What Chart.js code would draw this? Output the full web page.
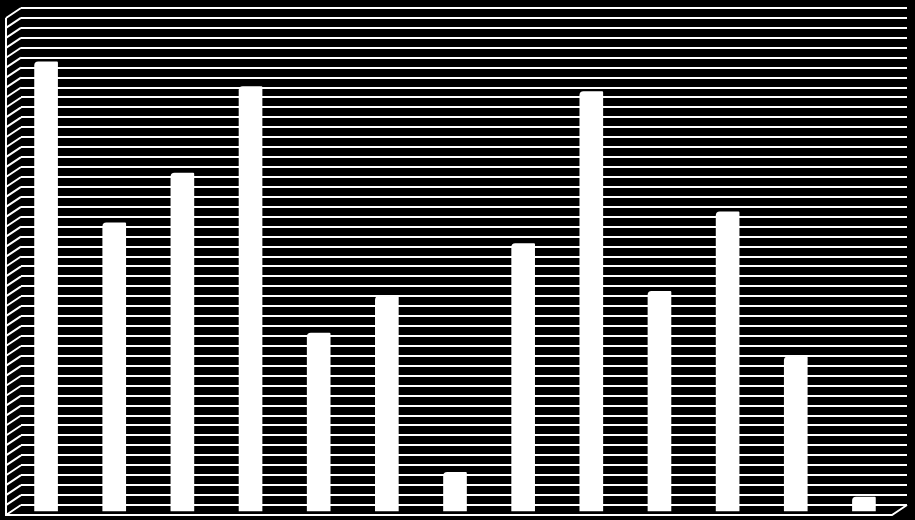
<!DOCTYPE html>
<html>
<head>
<meta charset="utf-8">
<script src="https://cdn.jsdelivr.net/npm/chart.js@4"></script>
<style>
  html, body { margin: 0; padding: 0; background: #000; }
  #wrap { width: 915px; height: 520px; }
</style>
</head>
<body>
<div id="wrap"><canvas id="myChart" width="915" height="520"></canvas></div>
<script>
"use strict";

const categories = ["1", "2", "3", "4", "5", "6", "7", "8", "9", "10", "11", "12", "13"];
const values = [45.3, 29.1, 34.1, 42.8, 18.0, 21.7, 4.0, 27.0, 42.3, 22.2, 30.2, 15.6, 1.5];
const yMin = 0;
const yMax = 50;
const yStep = 1;

// 3D look: side wall / floor depth, bars pushed forward
const DEPTH_X = 15;
const DEPTH_Y = 10;
const BAR_SHIFT_X = -9;
const BAR_SHIFT_Y = 7;

const wallPlugin = {
  id: "wall",
  beforeDraw(chart) {
    const c = chart.ctx;
    c.save();
    c.fillStyle = "#000";
    c.fillRect(0, 0, chart.width, chart.height);
    c.restore();
  },
  beforeDatasetsDraw(chart) {
    const c = chart.ctx;
    const area = chart.chartArea;
    const y = chart.scales.y;
    c.save();
    c.strokeStyle = "#fff";
    c.lineWidth = 2;
    c.beginPath();
    y.ticks.forEach((t) => {
      const py = y.getPixelForValue(t.value);
      c.moveTo(area.left, py);
      c.lineTo(area.left - DEPTH_X, py + DEPTH_Y);
    });
    // side wall front edge
    c.moveTo(area.left - DEPTH_X, area.top + DEPTH_Y);
    c.lineTo(area.left - DEPTH_X, area.bottom + DEPTH_Y);
    // floor front edge
    c.lineTo(area.right - DEPTH_X, area.bottom + DEPTH_Y);
    c.lineTo(area.right, area.bottom);
    c.stroke();
    c.restore();

    c.save();
    c.translate(BAR_SHIFT_X, BAR_SHIFT_Y);
  },
  afterDatasetsDraw(chart) {
    chart.ctx.restore();
  },
};

const ctx = document.getElementById("myChart").getContext("2d");
const myChart = new Chart(ctx, {
  type: "bar",
  data: {
    labels: categories,
    datasets: [
      {
        data: values,
        backgroundColor: "#fff",
        borderWidth: 0,
        borderRadius: { topLeft: 4, topRight: 1 },
        borderSkipped: "bottom",
        barThickness: 23,
        clip: false,
      },
    ],
  },
  options: {
    responsive: false,
    devicePixelRatio: 1,
    animation: false,
    layout: {
      padding: { left: 21, right: 8, top: 8, bottom: 15 },
    },
    plugins: {
      legend: { display: false },
      tooltip: { enabled: false },
    },
    scales: {
      x: {
        display: false,
      },
      y: {
        min: yMin,
        max: yMax,
        ticks: { display: false, stepSize: yStep },
        border: { display: false },
        grid: {
          color: "#fff",
          lineWidth: 2,
          drawTicks: false,
        },
      },
    },
  },
  plugins: [wallPlugin],
});
</script>
</body>
</html>
